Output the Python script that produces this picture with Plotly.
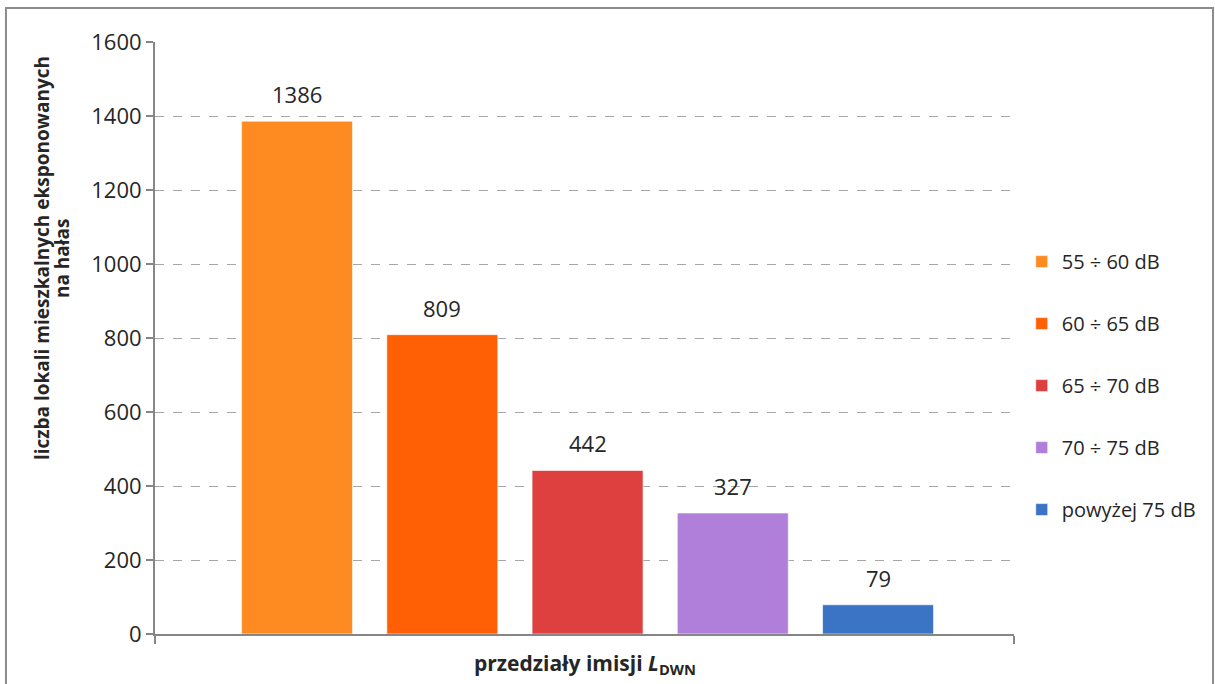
import plotly.graph_objects as go

series = ["55 ÷ 60 dB", "60 ÷ 65 dB", "65 ÷ 70 dB", "70 ÷ 75 dB", "powyżej 75 dB"]
values = [1386, 809, 442, 327, 79]
colors = ["#FD8B22", "#FF5F05", "#DE3F3F", "#B07FD9", "#3B74C4"]
y_ticks = [0, 200, 400, 600, 800, 1000, 1200, 1400, 1600]
y_title_lines = ["liczba lokali mieszkalnych eksponowanych", "na hałas"]

FONT = "Open Sans"
TXT = "#262626"

fig = go.Figure()
for i, (name, v, c) in enumerate(zip(series, values, colors)):
    fig.add_trace(go.Bar(
        x=[i], y=[v], name=name, width=0.764,
        marker=dict(color=c, line=dict(color="rgba(255,255,255,0.6)", width=1)),
        legendgroup=f"g{i}",
        hoverinfo="skip",
    ))
    fig.add_annotation(x=i, y=v, text=str(v), showarrow=False, yanchor="bottom",
                       yshift=10, font=dict(family=FONT, size=22, color=TXT))

fig.update_layout(
    width=1215, height=684,
    margin=dict(l=155, r=201, t=42, b=50),
    paper_bgcolor="white", plot_bgcolor="white",
    barmode="overlay",
    showlegend=True,
    legend=dict(x=1.009, xanchor="left", y=0.662, yanchor="top",
                font=dict(family=FONT, size=20, color=TXT),
                tracegroupgap=33, itemwidth=30,
                bgcolor="rgba(0,0,0,0)"),
    font=dict(family=FONT, color=TXT),
)

fig.update_xaxes(
    range=[-0.978, 4.936],
    tickvals=[-0.976, 4.934], showticklabels=False,
    ticks="outside", ticklen=8, tickcolor="#868686", tickwidth=2,
    showline=True, linecolor="#868686", linewidth=2,
    showgrid=False, zeroline=False, fixedrange=True,
)
fig.update_yaxes(
    range=[0, 1600], tickvals=y_ticks,
    ticks="outside", ticklen=7, tickcolor="#868686", tickwidth=2,
    tickfont=dict(family=FONT, size=22, color=TXT),
    showline=True, linecolor="#868686", linewidth=2,
    showgrid=True, gridcolor="#a6a6a6", griddash="dash", gridwidth=1,
    zeroline=False, fixedrange=True,
)

# y-axis title (two lines)
for xp, line in zip([-0.1315, -0.1083], y_title_lines):
    fig.add_annotation(xref="paper", yref="paper", x=xp, y=0.635,
                       xanchor="center", yanchor="middle",
                       text=f"<b>{line}</b>", textangle=-90, showarrow=False,
                       font=dict(family=FONT, size=19, color=TXT))
# x-axis title
fig.add_annotation(xref="paper", yref="paper", x=0.5, y=-0.05, yanchor="middle",
                   text="<b>przedziały imisji <i>L</i><sub>DWN</sub></b>",
                   showarrow=False,
                   font=dict(family=FONT, size=21, color=TXT))

# outer border
fig.add_shape(type="rect", xref="paper", yref="paper",
              x0=-0.1735, x1=1.2317, y0=-0.2, y1=1.0574,
              line=dict(color="#8c8c8c", width=2), layer="below")

fig.write_html("out.html", config={"displayModeBar": False},
               post_script="document.body.style.margin='0';")
